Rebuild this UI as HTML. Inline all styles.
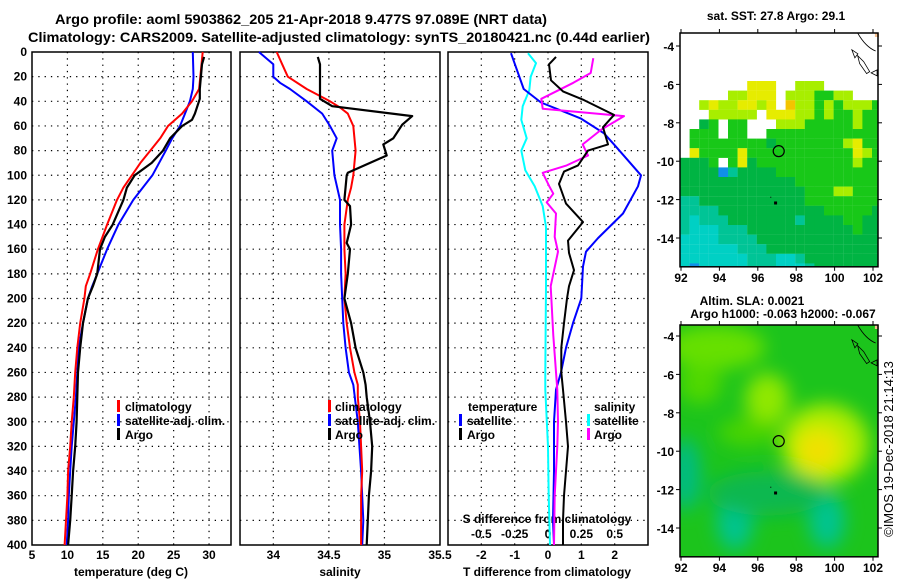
<!DOCTYPE html>
<html><head><meta charset="utf-8">
<style>
html,body{margin:0;padding:0;background:#fff;}
svg{display:block;font-family:"Liberation Sans",Arial,sans-serif;}
.t{font-weight:bold;font-size:12px;fill:#000;}
.ttl{font-weight:bold;font-size:14px;fill:#000;}
</style></head>
<body>
<svg id="chart" width="900" height="580" viewBox="0 0 900 580" xmlns="http://www.w3.org/2000/svg">
<text class="ttl" x="55" y="24" textLength="492" lengthAdjust="spacingAndGlyphs">Argo profile: aoml 5903862_205 21-Apr-2018 9.477S 97.089E (NRT data)</text>
<text class="ttl" x="28" y="42" textLength="622" lengthAdjust="spacingAndGlyphs">Climatology: CARS2009. Satellite-adjusted climatology: synTS_20180421.nc (0.44d earlier)</text>
<g id="g"></g>
<text transform="translate(893,449) rotate(-90)" text-anchor="middle" font-size="13" fill="#000">©IMOS 19-Dec-2018 21:14:13</text>
</svg>
<script>
// ---- data ----
const depthTicks=[0,20,40,60,80,100,120,140,160,180,200,220,240,260,280,300,320,340,360,380,400];
const tempTicks=[5,10,15,20,25,30];
const salTicks=[34,34.5,35,35.5];
const tdiffTicks=[-2,-1,0,1,2];
const sdiffTicks=[-0.5,-0.25,0,0.25,0.5];
const lonTicks=[92,94,96,98,100,102];
const latTicks=[-4,-6,-8,-10,-12,-14];

const tClimDepth=[0,30,40,50,60,70,80,90,100,110,120,140,160,180,190,200,220,240,260,280,300,320,340,360,380,400];
const tClimVal=[29.1,28.6,27.6,26.2,24.2,23.1,21.7,20.3,19.1,17.9,17.0,15.6,14.3,13.2,12.6,12.4,11.8,11.4,11.1,10.9,10.6,10.4,10.1,10.0,9.8,9.6];
const tSatDepth=[0,20,30,40,50,60,70,80,100,120,140,160,180,190,200,220,240,260,280,300,320,340,360,380,400];
const tSatVal=[27.7,27.8,27.7,27.3,26.6,25.9,24.8,23.9,22.0,19.3,17.2,15.6,14.2,13.5,12.9,12.2,11.6,11.4,11.2,10.9,10.6,10.4,10.2,10.1,9.9];
const tArgoDepth=[4,10,30,38,50,55,60,70,80,90,100,110,120,140,150,160,180,190,200,220,240,260,280,300,320,340,360,380,400];
const tArgoVal=[29.3,29.0,28.7,28.7,28.0,27.6,26.2,24.5,23.5,21.9,19.5,18.4,17.9,16.4,15.3,14.6,14.2,13.6,12.9,12.2,11.8,11.5,11.4,11.3,11.1,10.8,10.6,10.4,10.1];

const sClimDepth=[0,10,20,30,40,45,50,60,80,100,110,120,140,160,180,200,220,240,260,270,280,300,340,360,400];
const sClimVal=[34.03,34.08,34.13,34.30,34.51,34.60,34.67,34.72,34.74,34.72,34.70,34.67,34.64,34.64,34.65,34.64,34.66,34.69,34.73,34.76,34.76,34.78,34.80,34.79,34.79];
const sSatDepth=[0,10,20,25,30,40,50,60,70,80,100,120,140,160,180,200,220,240,260,270,300,340,380,400];
const sSatVal=[33.87,34.00,34.00,34.06,34.15,34.30,34.44,34.51,34.57,34.53,34.55,34.60,34.60,34.61,34.61,34.62,34.63,34.65,34.68,34.72,34.76,34.79,34.81,34.80];
const sArgoDepth=[4,10,38,44,52,59,70,75,84,90,98,100,120,125,140,155,160,180,200,220,240,260,270,280,300,320,340,360,380,400];
const sArgoVal=[34.40,34.42,34.42,34.53,35.25,35.16,35.08,34.99,35.02,34.87,34.67,34.66,34.64,34.69,34.70,34.66,34.69,34.67,34.64,34.70,34.74,34.81,34.83,34.84,34.87,34.89,34.88,34.86,34.85,34.84];

const dtSatDepth=[1,30,41,54,66,75,100,109,131,151,162,174,200,220,240,260,274,300,340,380,400];
const dtSatVal=[-1.11,-0.73,-0.21,0.99,1.68,1.98,2.79,2.70,2.25,1.50,1.14,1.05,1.0,0.75,0.54,0.39,0.24,0.18,0.18,0.15,0.18];
const dtArgoDepth=[4,10,23,32,39,51,61,75,80,92,97,107,123,138,153,163,177,190,200,220,240,260,274,300,320,340,360,380,400];
const dtArgoVal=[0.24,0.03,0.09,0.45,1.08,1.98,1.65,1.80,1.2,0.90,0.48,0.33,0.54,1.05,0.60,0.63,0.78,0.63,0.57,0.48,0.40,0.40,0.45,0.54,0.60,0.54,0.48,0.45,0.45];
const dsSatDepth=[1,9,20,31,44,55,70,80,96,109,125,142,190,260,274,320,360,400];
const dsSatVal=[-0.15,-0.09,-0.13,-0.14,-0.19,-0.20,-0.16,-0.20,-0.17,-0.10,-0.04,-0.015,-0.015,-0.02,-0.02,0.0,0.005,0.015];
const dsArgoDepth=[5,17,25,38,46,52,63,75,84,92,98,109,115,122,131,150,162,190,230,274,300,320,360,400];
const dsArgoVal=[0.34,0.32,0.19,-0.05,-0.04,0.57,0.40,0.26,0.30,0.14,-0.04,0.01,0.04,-0.01,0.06,0.05,0.075,0.02,0.04,0.07,0.075,0.07,0.05,0.045];

const sstRows=[
"WWWWWWWWWWWWWWWWWWWWW","WWWWWWWWWWWWWWWWWWWWW","WWWWWWWWWWWWWWWWWWWWW","WWWWWWWWWWWWWWWWWWWWW","WWWWWWWWWWWWWWWWWWWWW",
"WWWWWWWYYYWWLLLWWWWWW","WWWWWLLYYYWLLLGGLLWWW","WWLYLLYYLYWOLLGLGLLLG","WWWLLLLLWYYYLLGLGGLGG","WWDGWGGWWWLLLGGGGGLGG",
"WGGGWGGWWGGGGGGGGGGGG","WGGGGGGGGDGGGGGGGLYGG","WYGGGGYGGGGGGGGGGGYLG","DDDGWGYDGGGGGGGGGGLGG","DDDDBTDDDDGGGGGGGGGGG",
"DDDDDDDDDDDDGGGGGGGGG","DDDDDDDDDDDDDGGGLLGGG","TTDDDDDDDDDDDGGGGGGGG","TTTTDDDDDDDDDDDGGGGGD","TCTTTDDDDDDDTDDDDGGDD",
"TCCCTTTDDDDDDDDDDDGDD","CCCCTTTTDDDDDDDDDDDDD","CCCCCCTTTDDDDDDDDDDDD","CCCCCCCTTTCCTDDDDDDDD","CBCCCCCTTTCCCTDDDDDDD"];
const sstColors={W:"#ffffff",Y:"#e6ec00",L:"#a8ee00",O:"#f4c400",G:"#18c818",D:"#00b443",T:"#00c496",C:"#00d0c4",B:"#1090e8"};
const argoLon=97.089, argoLat=-9.477;

// ---- helpers ----
const NS="http://www.w3.org/2000/svg";
const G=document.getElementById('g');
function el(tag,attrs,parent){const e=document.createElementNS(NS,tag);for(const k in attrs)e.setAttribute(k,attrs[k]);(parent||G).appendChild(e);return e;}
function txt(x,y,s,anchor,cls,name){const e=el('text',{x:x,y:y,'text-anchor':anchor||'middle','class':cls||'t'});e.textContent=s;


return e;}
const Y0=52,Y1=545;
const yD=d=>Y0+d*(Y1-Y0)/400;

function panel(x0,x1,vmin,vmax,gridVals,name){
  const sx=v=>x0+(v-vmin)/(vmax-vmin)*(x1-x0);
  const grp=el('g',{});
  
  
  for(const d of depthTicks){ if(d===0||d===400)continue;
    el('line',{x1:x0,x2:x1,y1:yD(d),y2:yD(d),stroke:'#000','stroke-width':1.2,'stroke-dasharray':'1.3,5'},grp);}
  for(const v of gridVals){ el('line',{x1:sx(v),x2:sx(v),y1:Y0,y2:Y1,stroke:'#000','stroke-width':1.2,'stroke-dasharray':'1.3,5'},grp);}
  const r=el('rect',{x:x0,y:Y0,width:x1-x0,height:Y1-Y0,fill:'none',stroke:'#000','stroke-width':1.5},grp);
  
  
  return sx;
}
function line(sx,depths,vals,color,w,name){
  const pts=depths.map((d,i)=>sx(vals[i]).toFixed(1)+','+yD(d).toFixed(1)).join(' ');
  const p=el('polyline',{points:pts,fill:'none',stroke:color,'stroke-width':w,'stroke-linejoin':'round'});
  
  
}
function legBar(x,y,color,name){const r=el('rect',{x:x,y:y-10,width:3,height:12,fill:color});
  
  }

// Panel 1 temperature
const sxT=panel(32,231,5,33.1,[10,15,20,25,30],'temperature-panel');
for(const d of depthTicks) txt(27,yD(d)+4,String(d),'end','t','y-tick-label');
for(const v of tempTicks) txt(sxT(v),559,String(v),'middle','t','x-tick-label');
txt(131,576,'temperature (deg C)','middle','t','x-axis-title-temperature');
line(sxT,tSatDepth,tSatVal,'#0000ff',2,'line-temp-satellite');
line(sxT,tClimDepth,tClimVal,'#ff0000',2,'line-temp-climatology');
line(sxT,tArgoDepth,tArgoVal,'#000000',2.2,'line-temp-argo');
legBar(117,410,'#ff0000','legend-marker-climatology');txt(125,411,'climatology','start','t','legend-entry-climatology');
legBar(117,424,'#0000ff','legend-marker-satellite');txt(125,425,'satellite-adj. clim.','start','t','legend-entry-satellite');
legBar(117,438,'#000','legend-marker-argo');txt(125,439,'Argo','start','t','legend-entry-argo');

// Panel 2 salinity
const sxS=panel(240,440,33.7,35.5,[34,34.5,35],'salinity-panel');
for(const v of salTicks) txt(sxS(v),559,String(v),'middle','t','x-tick-label');
txt(340,576,'salinity','middle','t','x-axis-title-salinity');
line(sxS,sSatDepth,sSatVal,'#0000ff',2,'line-sal-satellite');
line(sxS,sClimDepth,sClimVal,'#ff0000',2,'line-sal-climatology');
line(sxS,sArgoDepth,sArgoVal,'#000000',2.2,'line-sal-argo');
legBar(328,410,'#ff0000','legend-marker-climatology');txt(335,411,'climatology','start','t','legend-entry-climatology');
legBar(328,424,'#0000ff','legend-marker-satellite');txt(335,425,'satellite-adj. clim.','start','t','legend-entry-satellite');
legBar(328,438,'#000','legend-marker-argo');txt(335,439,'Argo','start','t','legend-entry-argo');

// Panel 3 differences
const sxD=panel(448,648,-3,3,[-2,-1,0,1,2],'difference-panel');
const sxDS=v=>sxD(v*4);
for(const v of tdiffTicks) txt(sxD(v),559,String(v),'middle','t','t-diff-tick-label');
for(const v of sdiffTicks) txt(sxDS(v),538,String(v),'middle','t','s-diff-tick-label');
txt(547,523,'S difference from climatology','middle','t','s-diff-axis-title');
txt(547,576,'T difference from climatology','middle','t','t-diff-axis-title');
line(sxDS,dsSatDepth,dsSatVal,'#00ffff',2,'line-sdiff-satellite');
line(sxD,dtSatDepth,dtSatVal,'#0000ff',2,'line-tdiff-satellite');
line(sxDS,dsArgoDepth,dsArgoVal,'#ff00ff',2,'line-sdiff-argo');
line(sxD,dtArgoDepth,dtArgoVal,'#000000',2,'line-tdiff-argo');
txt(468,411,'temperature','start','t','legend-title-temperature');
legBar(459,424,'#0000ff','legend-marker-t-satellite');txt(467,425,'satellite','start','t','legend-entry-t-satellite');
legBar(459,438,'#000','legend-marker-t-argo');txt(467,439,'Argo','start','t','legend-entry-t-argo');
txt(594,411,'salinity','start','t','legend-title-salinity');
legBar(587,424,'#00ffff','legend-marker-s-satellite');txt(594,425,'satellite','start','t','legend-entry-s-satellite');
legBar(587,438,'#ff00ff','legend-marker-s-argo');txt(594,439,'Argo','start','t','legend-entry-s-argo');

// ---- maps ----
function mapFrame(top,yLat4){
  const mx=lon=>681+(lon-92)*19.2;
  const my=lat=>yLat4+(-lat-4)*19.2;
  const bottom=my(-15.5);
  return {mx,my,top,bottom};
}
function mapDecor(m,name,yLabelY){
  const grp=el('g',{});
  
  
  el('path',{d:`M${m.mx(101.2)} ${m.top} q8 14 18 18 M${m.mx(100.9)} ${m.my(-4.2)} l6 4 l-3 4 z M${m.mx(101.2)} ${m.my(-4.5)} l6 6 l6 10 l-3 2 l-7 -10 z M${m.mx(101.9)} ${m.my(-5.4)} l6 -3 l0 6 z`,fill:'none',stroke:'#000','stroke-width':0.8},grp);
  el('rect',{x:m.mx(102.1),y:m.top,width:4,height:4,fill:'#f4c090'},grp);
  el('rect',{x:680,y:m.top,width:198,height:m.bottom-m.top,fill:'none',stroke:'#000','stroke-width':1.5},grp);
  for(const lat of latTicks){ el('line',{x1:676,x2:680,y1:m.my(lat),y2:m.my(lat),stroke:'#000'},grp);
    el('line',{x1:878,x2:882,y1:m.my(lat),y2:m.my(lat),stroke:'#000'},grp);
    txt(674,m.my(lat)+5,String(lat),'end','t','map-lat-label');}
  for(const lon of lonTicks){ el('line',{x1:m.mx(lon),x2:m.mx(lon),y1:m.top-4,y2:m.top,stroke:'#000'},grp);
    el('line',{x1:m.mx(lon),x2:m.mx(lon),y1:m.bottom,y2:m.bottom+4,stroke:'#000'},grp);
    txt(m.mx(lon),yLabelY,String(lon),'middle','t','map-lon-label');}
  const c=el('circle',{cx:m.mx(argoLon),cy:m.my(argoLat),r:5.5,fill:'none',stroke:'#000','stroke-width':1.2},grp);
  
  
  el('rect',{x:m.mx(96.9)-1,y:m.my(-12.15)-1,width:3,height:3,fill:'#000'},grp);
  el('rect',{x:m.mx(96.65),y:m.my(-11.85),width:1,height:1,fill:'#000'},grp);
}
// SST map
const m1=mapFrame(33,46);
const sstG=el('g',{});


el('rect',{x:680,y:33,width:198,height:234,fill:'#fff'},sstG);
sstRows.forEach((row,r)=>{for(let c=0;c<row.length;c++){const ch=row[c];if(ch==='W')continue;
  const x=680+c*9.6, y=33+r*9.6; const w=Math.min(9.7,878-x), h=Math.min(9.7,267-y);
  if(w>0&&h>0) el('rect',{x:x,y:y,width:w,height:h,fill:sstColors[ch]},sstG);}});
mapDecor(m1,'sst-map',282);
txt(776,20,'sat. SST: 27.8 Argo: 29.1','middle','t','sst-map-title');

// SLA map
const m2=mapFrame(325,336);
const defs=el('defs',{});
const flt=el('filter',{id:'blur',x:'-50%',y:'-50%',width:'200%',height:'200%'},defs);
el('feGaussianBlur',{stdDeviation:9},flt);
const clip=el('clipPath',{id:'c2'},defs);el('rect',{x:680,y:325,width:198,height:232},clip);
const slaOuter=el('g',{'clip-path':'url(#c2)'});


el('rect',{x:680,y:325,width:198,height:232,fill:'#1cc41c'},slaOuter);
const slaG=el('g',{filter:'url(#blur)'},slaOuter);
el('ellipse',{cx:m2.mx(93.8),cy:m2.my(-4.6),rx:50,ry:22,fill:'#66e000'},slaG);
el('ellipse',{cx:m2.mx(93.0),cy:m2.my(-6.5),rx:22,ry:20,fill:'#50d800'},slaG);
el('ellipse',{cx:m2.mx(96.5),cy:m2.my(-7.3),rx:22,ry:26,fill:'#90e800'},slaG);
el('ellipse',{cx:m2.mx(95.5),cy:m2.my(-9.0),rx:30,ry:14,fill:'#48d400'},slaG);
el('ellipse',{cx:m2.mx(99.5),cy:m2.my(-9.6),rx:44,ry:40,fill:'#a8ec00'},slaG);
el('ellipse',{cx:m2.mx(99.2),cy:m2.my(-9.9),rx:26,ry:24,fill:'#e4e800'},slaG);
el('ellipse',{cx:m2.mx(99.1),cy:m2.my(-10.0),rx:12,ry:12,fill:'#f4dc00'},slaG);
el('ellipse',{cx:m2.mx(94.8),cy:m2.my(-13.6),rx:18,ry:30,fill:'#00c490'},slaG);
el('ellipse',{cx:m2.mx(99.6),cy:m2.my(-13.6),rx:18,ry:28,fill:'#00c490'},slaG);
el('ellipse',{cx:m2.mx(92.2),cy:m2.my(-11.2),rx:16,ry:36,fill:'#00bc80'},slaG);
el('ellipse',{cx:m2.mx(96.5),cy:m2.my(-12.2),rx:60,ry:22,fill:'#10b850'},slaG);
mapDecor(m2,'sla-map',572);
txt(752,305,'Altim. SLA: 0.0021','middle','t','sla-map-title');
txt(783,318,'Argo h1000: -0.063 h2000: -0.067','middle','t','sla-map-subtitle');
</script>
</body></html>
